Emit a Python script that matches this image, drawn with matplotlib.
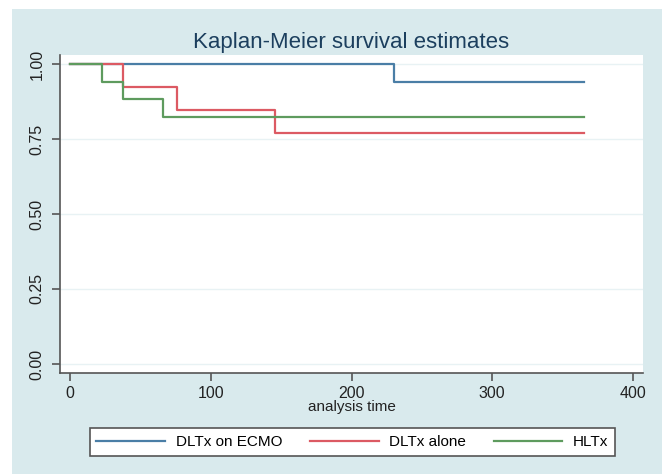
import matplotlib
matplotlib.use("Agg")
import matplotlib.pyplot as plt
from matplotlib.patches import Rectangle

# Kaplan-Meier step data (time, survival)
ecmo_t = [0, 230, 365]
ecmo_s = [1.0, 0.941, 0.941]

alone_t = [0, 38, 76, 146, 365]
alone_s = [1.0, 0.923, 0.846, 0.769, 0.769]

hltx_t = [0, 23, 38, 66, 365]
hltx_s = [1.0, 0.941, 0.882, 0.824, 0.824]

labels = ["DLTx on ECMO", "DLTx alone", "HLTx"]
colors = ["#4a7ea6", "#dc5a63", "#5e9b5e"]

yticks = [0, 0.25, 0.5, 0.75, 1.0]
xticks = [0, 100, 200, 300, 400]

plt.rcParams['font.family'] = ['Liberation Sans', 'DejaVu Sans']

fig = plt.figure(figsize=(6.65, 4.74), dpi=100)
fig.patch.set_facecolor('white')
# teal graph region background
bg = Rectangle((12 / 665, 0), (662 - 12) / 665, (474 - 9) / 474,
               transform=fig.transFigure, facecolor='#d9eaed',
               edgecolor='none', zorder=-10)
fig.add_artist(bg)

ax = fig.add_axes([60 / 665, (474 - 373) / 474, 583 / 665, 318 / 474])
ax.set_facecolor('white')

for t, s, c, lab in zip([ecmo_t, alone_t, hltx_t], [ecmo_s, alone_s, hltx_s], colors, labels):
    ax.step(t, s, where='post', color=c, lw=1.6, label=lab)

ax.set_xlim(-7.1, 407.1)
ax.set_ylim(-0.03, 1.03)
ax.set_xticks(xticks)
ax.set_yticks(yticks)
ax.set_yticklabels(["%.2f" % v for v in yticks], rotation=90, va='center')
ax.grid(axis='y', color='#e8f2f4', lw=1)
ax.set_axisbelow(True)

for side in ['top', 'right']:
    ax.spines[side].set_visible(False)
for side in ['left', 'bottom']:
    ax.spines[side].set_color('#555555')
    ax.spines[side].set_linewidth(1.2)
ax.tick_params(direction='out', length=6, width=1.2, color='#555555',
               labelsize=11.5, labelcolor='#222222', pad=3)
ax.tick_params(axis='y', pad=5)

ax.set_xlabel("analysis time", fontsize=11, color='#222222', labelpad=0)
ax.set_title("Kaplan-Meier survival estimates", fontsize=16, color='#1c3f5e', pad=5)

leg = fig.legend(loc='center', bbox_to_anchor=(352.5 / 665, (474 - 442) / 474), ncol=3,
                 fontsize=11, handlelength=4.5, handletextpad=0.7, columnspacing=1.8,
                 frameon=True, fancybox=False, borderpad=0.45, framealpha=1)
leg.get_frame().set_facecolor('white')
leg.get_frame().set_edgecolor('#555555')
leg.get_frame().set_linewidth(1.2)

fig.savefig("out.png", dpi=100)
